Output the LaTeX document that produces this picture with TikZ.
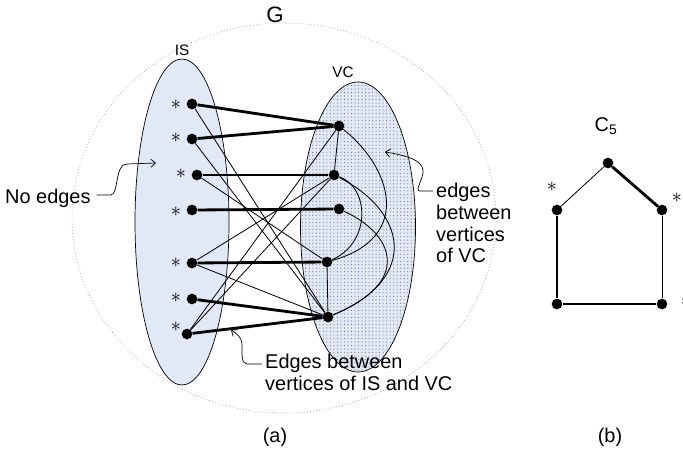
\documentclass[tikz,border=0pt]{standalone}
\usepackage{fontspec}
\setmainfont{Liberation Sans}
\usetikzlibrary{arrows.meta,patterns}
\definecolor{setfill}{HTML}{E1E9F6}
\definecolor{dotgray}{HTML}{7A7A7A}

\begin{document}
\begin{tikzpicture}[x=0.03cm,y=-0.03cm,
  dot/.style={circle,fill=black,inner sep=0pt,minimum size=0.32cm},
  thickedge/.style={line width=2.4pt},
  thinedge/.style={line width=0.7pt},
  pointer/.style={line width=0.6pt,-{Straight Barb[length=4pt,width=7pt]}},
  note/.style={font=\fontsize{17}{18.5}\selectfont,align=left,inner sep=0pt},
  ismark/.style={font=\fontsize{17}{17}\selectfont,inner sep=0pt}]

  \useasboundingbox (0,0) rectangle (683,451);

  % the graph G and its two parts
  \draw[dotted,gray,line width=0.5pt] (284,218) ellipse [x radius=212,y radius=195];
  \draw[fill=setfill,line width=0.6pt] (182,222) ellipse [x radius=47,y radius=163];
  \fill[setfill] (358,227) ellipse [x radius=57.5,y radius=145];
  \draw[pattern=dots,pattern color=dotgray,line width=0.6pt] (358,227) ellipse [x radius=57.5,y radius=145];

  \node[font=\fontsize{19}{19}\selectfont] (glabel) at (275,15) {G};
  \node[font=\fontsize{13}{13}\selectfont] (islabel) at (182,50) {IS};
  \node[font=\fontsize{13}{13}\selectfont] (vclabel) at (343,72) {VC};

  % vertices of IS
  \node[dot] (i1) at (192,104) {};
  \node[dot] (i2) at (192,139) {};
  \node[dot] (i3) at (197,175) {};
  \node[dot] (i4) at (192,210) {};
  \node[dot] (i5) at (192,263) {};
  \node[dot] (i6) at (192,299) {};
  \node[dot] (i7) at (187,334) {};
  \node[ismark] (s1) at (176,105) {$\ast$};
  \node[ismark] (s2) at (176,138) {$\ast$};
  \node[ismark] (s3) at (181,174) {$\ast$};
  \node[ismark] (s4) at (176,212) {$\ast$};
  \node[ismark] (s5) at (176,263) {$\ast$};
  \node[ismark] (s6) at (176,298) {$\ast$};
  \node[ismark] (s7) at (176,327) {$\ast$};

  % vertices of VC
  \node[dot] (v1) at (339,126) {};
  \node[dot] (v2) at (334,175) {};
  \node[dot] (v3) at (339,209) {};
  \node[dot] (v4) at (327,262) {};
  \node[dot] (v5) at (328,317) {};

  % edges between IS and VC
  \draw[thickedge] (i1) -- (v1);
  \draw[thickedge] (i2) -- (v1);
  \draw[thickedge] (i3) -- (v2);
  \draw[thickedge] (i4) -- (v3);
  \draw[thickedge] (i5) -- (v4);
  \draw[thickedge] (i6) -- (v5);
  \draw[thickedge] (i7) -- (v5);
  \draw[thinedge] (i1) -- (v5);
  \draw[thinedge] (i2) -- (v5);
  \draw[thinedge] (i3) -- (v4);
  \draw[thinedge] (i5) -- (v2);
  \draw[thinedge] (i5) -- (v5);
  \draw[thinedge] (i7) -- (v1);
  \draw[thinedge] (i7) -- (v2);

  % edges inside VC
  \draw[thinedge] (v1) -- (v2);
  \draw[thinedge] (v4) -- (v5);
  \draw[thinedge] (v1) .. controls +(51,40) and +(88,-25) .. (v4);
  \draw[thinedge] (v2) .. controls +(35,12) and +(45,-20) .. (v4);
  \draw[thinedge] (v2) .. controls +(70,35) and +(95,-40) .. (v5);
  \draw[thinedge] (v3) .. controls +(55,25) and +(85,-35) .. (v5);

  % notes
  \node[note,anchor=west] (noedges) at (5,198) {No edges};
  \coordinate (noedgestip) at (156,163);
  \draw[pointer] (noedges.east) ++(6,-3) -- ++(14,0)
    .. controls +(8,0) and +(-12,0) .. ++(16,-31) -- (noedgestip);

  \node[note,anchor=north west] (vcnote) at (436,183) {edges\\between\\vertices\\of VC};
  \coordinate (vctip) at (385,152);
  \draw[pointer] (vcnote.north west) ++(-3,8) -- ++(-13,0)
    .. controls +(-6,0) and +(1,8) .. ++(3,-21)
    .. controls +(-1,-12) and +(12,2) .. (vctip);

  \node[note,anchor=north west] (isvcnote) at (265,354) {Edges between\\vertices of IS and VC};
  \coordinate (isvctip) at (231,330);
  \draw[pointer] (isvcnote.north west) ++(-3,10) -- ++(-15,0)
    .. controls +(-6,0) and +(0,8) .. ++(-5,-19)
    .. controls +(0,-8) and +(6,4) .. (isvctip);

  % the cycle C5
  \node[note] (c5label) at (606,126) {C\textsubscript{5}};
  \node[dot] (c1) at (608,163) {};
  \node[dot] (c2) at (557,210) {};
  \node[dot] (c3) at (662,210) {};
  \node[dot] (c4) at (557,304) {};
  \node[dot] (c5) at (662,304) {};
  \draw[thinedge] (c1) -- (c2);
  \draw[thickedge] (c1) -- (c3);
  \draw[thickedge] (c2) -- (c4);
  \draw[thickedge] (c4) -- (c5);
  \draw[thinedge] (c3) -- (c5);
  \node[ismark] (t2) at (552,187) {$\ast$};
  \node[ismark] (t3) at (677,198) {$\ast$};
  \node[ismark] (t5) at (686,302) {$\ast$};

  \node[note] (alabel) at (275,437) {(a)};
  \node[note] (blabel) at (610,437) {(b)};
\end{tikzpicture}
\end{document}
